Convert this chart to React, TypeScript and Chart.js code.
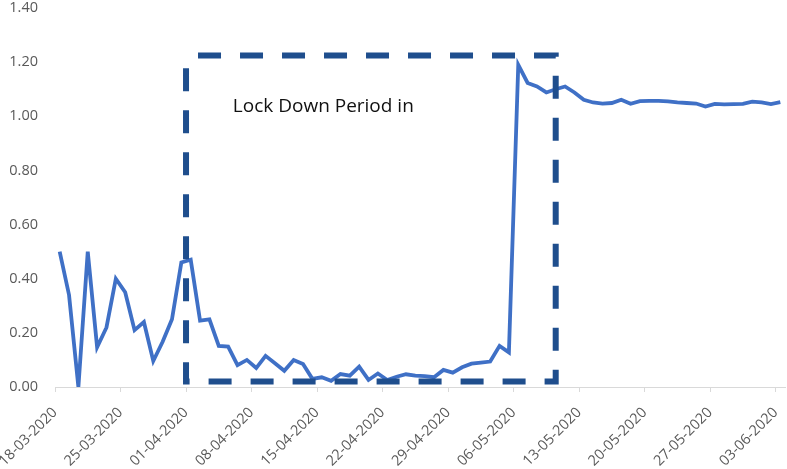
import React, { useEffect, useRef } from 'react';
import { Chart, registerables } from 'chart.js';

Chart.register(...registerables);

const dates: string[] = [
  '18-03-2020', '19-03-2020', '20-03-2020', '21-03-2020', '22-03-2020', '23-03-2020', '24-03-2020',
  '25-03-2020', '26-03-2020', '27-03-2020', '28-03-2020', '29-03-2020', '30-03-2020', '31-03-2020',
  '01-04-2020', '02-04-2020', '03-04-2020', '04-04-2020', '05-04-2020', '06-04-2020', '07-04-2020',
  '08-04-2020', '09-04-2020', '10-04-2020', '11-04-2020', '12-04-2020', '13-04-2020', '14-04-2020',
  '15-04-2020', '16-04-2020', '17-04-2020', '18-04-2020', '19-04-2020', '20-04-2020', '21-04-2020',
  '22-04-2020', '23-04-2020', '24-04-2020', '25-04-2020', '26-04-2020', '27-04-2020', '28-04-2020',
  '29-04-2020', '30-04-2020', '01-05-2020', '02-05-2020', '03-05-2020', '04-05-2020', '05-05-2020',
  '06-05-2020', '07-05-2020', '08-05-2020', '09-05-2020', '10-05-2020', '11-05-2020', '12-05-2020',
  '13-05-2020', '14-05-2020', '15-05-2020', '16-05-2020', '17-05-2020', '18-05-2020', '19-05-2020',
  '20-05-2020', '21-05-2020', '22-05-2020', '23-05-2020', '24-05-2020', '25-05-2020', '26-05-2020',
  '27-05-2020', '28-05-2020', '29-05-2020', '30-05-2020', '31-05-2020', '01-06-2020', '02-06-2020',
  '03-06-2020',
];

const values: number[] = [
  0.50, 0.34, 0.00, 0.50, 0.147, 0.22, 0.40, 0.35, 0.21, 0.24, 0.096, 0.167, 0.25, 0.46,
  0.47, 0.245, 0.25, 0.152, 0.149, 0.081, 0.10, 0.07, 0.115, 0.088, 0.06, 0.10, 0.085,
  0.03, 0.036, 0.023, 0.048, 0.042, 0.075, 0.026, 0.05, 0.026, 0.038, 0.047, 0.042, 0.04,
  0.036, 0.063, 0.053, 0.073, 0.086, 0.09, 0.094, 0.152, 0.128, 1.19, 1.123, 1.11, 1.088,
  1.10, 1.11, 1.088, 1.061, 1.051, 1.047, 1.049, 1.061, 1.046, 1.056, 1.057, 1.057, 1.055,
  1.051, 1.049, 1.047, 1.036, 1.046, 1.044, 1.045, 1.046, 1.054, 1.051, 1.045, 1.052,
];

const tickLabels: string[] = [
  '18-03-2020', '25-03-2020', '01-04-2020', '08-04-2020', '15-04-2020', '22-04-2020',
  '29-04-2020', '06-05-2020', '13-05-2020', '20-05-2020', '27-05-2020', '03-06-2020',
];

const lockdownStart = '01-04-2020';
const lockdownEnd = '10-05-2020';
const lockdownLow = 0.02;
const lockdownHigh = 1.225;
const annotationText = 'Lock Down Period in';
const annotationDate = '06-04-2020';
const annotationValue = 1.035;

const FONT = "'Open Sans', 'Noto Sans', sans-serif";

const boxPlugin = {
  id: 'lockdownBox',
  afterDatasetsDraw(chart: any) {
    const { ctx, scales } = chart;
    const x = scales.x;
    const y = scales.y;
    const x0 = x.getPixelForValue(dates.indexOf(lockdownStart));
    const x1 = x.getPixelForValue(dates.indexOf(lockdownEnd) + 0.5);
    const y0 = y.getPixelForValue(lockdownHigh);
    const y1 = y.getPixelForValue(lockdownLow);
    ctx.save();
    ctx.strokeStyle = '#1F4E8D';
    ctx.lineWidth = 6;
    ctx.setLineDash([23, 19]);
    ctx.lineDashOffset = -12;
    ctx.beginPath();
    ctx.moveTo(x0, y0);
    ctx.lineTo(x1, y0);
    ctx.lineTo(x1, y1);
    ctx.lineTo(x0, y1);
    ctx.closePath();
    ctx.stroke();
    ctx.setLineDash([]);
    ctx.fillStyle = '#111111';
    ctx.font = `19px ${FONT}`;
    ctx.textAlign = 'left';
    ctx.textBaseline = 'middle';
    ctx.fillText(annotationText, x.getPixelForValue(dates.indexOf(annotationDate)), y.getPixelForValue(annotationValue));
    ctx.restore();
  },
};

export default function App() {
  const ref = useRef<HTMLCanvasElement | null>(null);

  useEffect(() => {
    document.body.style.margin = '0';
    if (!ref.current) return;
    const points = values.map((v, i) => ({ x: i + 0.5, y: v }));
    const chart = new Chart(ref.current, {
      type: 'line',
      data: {
        datasets: [
          {
            data: points,
            borderColor: '#3F70C6',
            borderWidth: 3.8,
            pointRadius: 0,
            tension: 0,
            fill: false,
          },
        ],
      },
      options: {
        animation: false,
        responsive: false,
        layout: { padding: { top: 8, right: 2, left: 0, bottom: 0 } },
        plugins: { legend: { display: false }, tooltip: { enabled: false } },
        scales: {
          x: {
            type: 'linear',
            min: 0,
            max: 78,
            afterBuildTicks: (scale: any) => {
              scale.ticks = tickLabels.map((_, i) => ({ value: i * 7 }));
            },
            afterFit: (scale: any) => {
              scale.height = 82;
              scale.paddingLeft = 0;
              scale.paddingRight = 0;
            },
            ticks: {
              autoSkip: false,
              maxRotation: 45,
              minRotation: 45,
              color: '#595959',
              font: { family: FONT, size: 14.5 },
              padding: 12,
              callback: (v: any) => tickLabels[Math.round(Number(v) / 7)] ?? '',
            },
            grid: {
              drawOnChartArea: false,
              drawTicks: true,
              tickLength: 5,
              color: '#D9D9D9',
            },
            border: { display: true, color: '#D9D9D9', width: 1 },
          },
          y: {
            min: 0,
            max: 1.4,
            afterFit: (scale: any) => {
              scale.width = 55;
              scale.paddingTop = 0;
              scale.paddingBottom = 0;
            },
            ticks: {
              stepSize: 0.2,
              color: '#595959',
              font: { family: FONT, size: 14.5 },
              padding: 17,
              callback: (v: any) => Number(v).toFixed(2),
            },
            grid: { display: false, drawTicks: false },
            border: { display: false },
          },
        },
      },
      plugins: [boxPlugin],
    });
    return () => chart.destroy();
  }, []);

  return (
    <div style={{ width: 787, height: 469, background: '#fff' }}>
      <canvas ref={ref} width={787} height={469} style={{ display: 'block' }} />
    </div>
  );
}
